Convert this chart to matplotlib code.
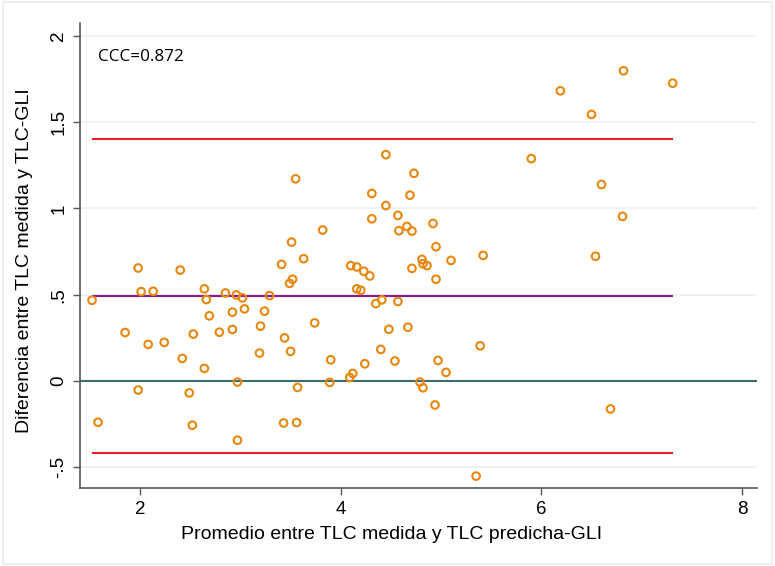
#!/usr/bin/env python3
"""Bland-Altman plot: TLC medida vs TLC predicha-GLI"""

import matplotlib
matplotlib.use('Agg')
from matplotlib import pyplot as plt
from matplotlib.patches import Rectangle

# Promedio (x) y diferencia (y) de cada paciente
promedio = [1.98, 2.40, 2.01, 2.13, 1.52, 2.64, 2.66, 2.85, 2.96, 3.02,
            2.92, 3.04, 2.69, 1.85, 2.08, 2.24, 2.53, 2.79, 2.92, 2.42,
            2.64, 2.97, 1.98, 2.49, 1.58, 2.52, 2.97,
            4.45, 3.55, 4.73, 4.31, 4.69, 4.45, 4.31, 4.57, 4.66, 4.58,
            4.71, 3.82, 3.51, 3.63, 3.41, 4.10, 4.16, 4.23, 4.29, 4.71,
            4.81, 4.82, 4.86, 3.52, 3.49, 4.16, 4.20, 3.29, 4.35, 4.41,
            4.57, 3.24, 3.20, 3.74, 4.48, 4.67, 3.44, 3.19, 3.50, 3.90,
            4.40, 4.24, 4.54, 4.12, 4.09, 3.89, 4.79, 4.82, 3.57, 3.43,
            3.56,
            4.92, 4.95, 5.42, 5.10, 4.95, 5.39, 4.97, 5.05, 4.94, 5.35,
            6.82, 7.31, 6.19, 6.50, 5.90, 6.60, 6.81, 6.54, 6.69]
diferencia = [0.655, 0.643, 0.518, 0.520, 0.468, 0.534, 0.472, 0.510, 0.499, 0.482,
              0.399, 0.418, 0.378, 0.281, 0.212, 0.224, 0.272, 0.283, 0.299, 0.131,
              0.073, -0.006, -0.052, -0.069, -0.239, -0.256, -0.343,
              1.312, 1.172, 1.204, 1.087, 1.077, 1.017, 0.940, 0.960, 0.896, 0.871,
              0.869, 0.875, 0.805, 0.709, 0.676, 0.669, 0.661, 0.636, 0.609, 0.653,
              0.705, 0.680, 0.669, 0.590, 0.566, 0.534, 0.526, 0.495, 0.449, 0.470,
              0.461, 0.405, 0.318, 0.337, 0.300, 0.312, 0.250, 0.162, 0.172, 0.123,
              0.183, 0.100, 0.116, 0.044, 0.021, -0.008, -0.006, -0.039, -0.037, -0.243,
              -0.241,
              0.913, 0.778, 0.728, 0.699, 0.590, 0.204, 0.119, 0.050, -0.139, -0.551,
              1.798, 1.726, 1.682, 1.545, 1.289, 1.139, 0.954, 0.723, -0.162]

media_dif = 0.491
lim_sup = 1.404
lim_inf = -0.416
ccc_text = 'CCC=0.872'

y_ticks = [2, 1.5, 1, 0.5, 0, -0.5]
y_tick_labels = ['2', '1.5', '1', '.5', '0', '-.5']
x_ticks = [2, 4, 6, 8]

plt.rcParams['font.family'] = ['Liberation Sans', 'DejaVu Sans']

fig = plt.figure(figsize=(7.75, 5.66), dpi=100)
fig.patches.append(Rectangle((0.004, 0.004), 0.992, 0.992, transform=fig.transFigure,
                             fill=False, edgecolor='#e6eef0', linewidth=1.2))
ax = fig.add_axes([0.1032, 0.1378, 0.8735, 0.8216])

xmin, xmax = min(promedio), max(promedio)

for yt in y_ticks:
    ax.axhline(yt, color='#eaf1f3', linewidth=1.2, zorder=0)

ax.hlines([lim_sup, lim_inf], xmin, xmax, color='#ee1c25', linewidth=1.5, zorder=2)
ax.hlines(media_dif, xmin, xmax, color='#8b1a8b', linewidth=1.5, zorder=2)
ax.axhline(0, color='#3d6b6b', linewidth=1.5, zorder=2)

ax.scatter(promedio, diferencia, s=30, facecolors='none', edgecolors='#e8870e',
           linewidths=1.5, zorder=3)

ax.text(0.026, 0.927, ccc_text, transform=ax.transAxes, fontsize=12.3,
        family=['Open Sans', 'DejaVu Sans'], va='center', ha='left')

ax.set_xlim(1.40, 8.15)
ax.set_ylim(-0.620, 2.075)
ax.set_xticks(x_ticks)
ax.set_yticks(y_ticks)
ax.set_yticklabels(y_tick_labels, rotation=90, va='center')
ax.tick_params(axis='both', direction='out', length=5, width=1, color='#555555',
               labelsize=13.5, pad=4)
ax.set_xlabel('Promedio entre TLC medida y TLC predicha-GLI', fontsize=14)
ax.set_ylabel('Diferencia entre TLC medida y TLC-GLI', fontsize=14)
ax.xaxis.set_label_coords(0.460, -0.082)
ax.yaxis.set_label_coords(-0.069, 0.490)

for side in ['top', 'right']:
    ax.spines[side].set_visible(False)
for side in ['left', 'bottom']:
    ax.spines[side].set_color('#555555')
    ax.spines[side].set_linewidth(1.2)

fig.savefig('out.png', dpi=100)
